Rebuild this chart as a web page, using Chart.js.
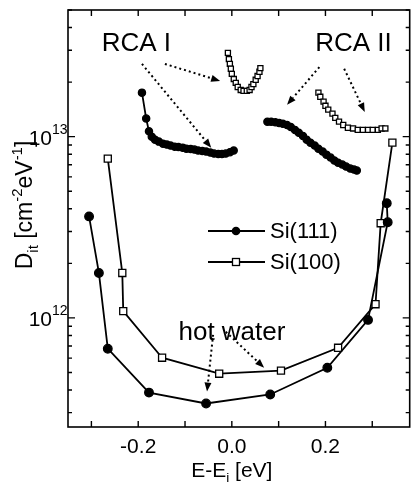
<!DOCTYPE html>
<html>
<head>
<meta charset="utf-8">
<script src="https://cdn.jsdelivr.net/npm/chart.js@4/dist/chart.umd.min.js"></script>
<style>html,body{margin:0;padding:0;background:#fff}#c{display:block}</style>
</head>
<body>
<canvas id="c" width="416" height="483"></canvas>
<script>
// hot water cleaned
const hot111E=[-0.305,-0.284,-0.265,-0.177,-0.055,0.082,0.204,0.291,0.333,0.331];
const hot111D=[3.63e12,1.77e12,6.76e11,3.87e11,3.37e11,3.78e11,5.31e11,9.75e11,3.37e12,4.29e12];
const hot100E=[-0.265,-0.234,-0.232,-0.149,-0.027,0.105,0.227,0.307,0.318,0.343];
const hot100D=[7.57e12,1.77e12,1.09e12,6.03e11,4.92e11,5.12e11,6.84e11,1.19e12,3.33e12,9.27e12];
// RCA I
const rca1s111E=[-0.192,-0.183,-0.177,-0.171,-0.164,-0.156,-0.147,-0.139,-0.131,-0.122,-0.114,-0.105,-0.097,-0.088,-0.080,-0.072,-0.063,-0.055,-0.046,-0.038,-0.029,-0.021,-0.013,-0.004,0.004];
const rca1s111D=[1.75e13,1.26e13,1.07e13,1.00e13,9.63e12,9.39e12,9.15e12,9.04e12,8.93e12,8.81e12,8.76e12,8.70e12,8.59e12,8.54e12,8.49e12,8.38e12,8.33e12,8.27e12,8.17e12,8.07e12,8.02e12,8.02e12,8.07e12,8.21e12,8.38e12];
const rca1s100E=[-0.0084,-0.0063,-0.0042,-0.0021,0.0,0.0042,0.0084,0.0126,0.019,0.025,0.032,0.038,0.042,0.046,0.051,0.055,0.059,0.061];
const rca1s100D=[2.90e13,2.68e13,2.52e13,2.37e13,2.22e13,2.08e13,1.98e13,1.88e13,1.81e13,1.79e13,1.79e13,1.81e13,1.88e13,1.95e13,2.06e13,2.16e13,2.28e13,2.39e13];
// RCA II
const rca2s111E=[0.076,0.084,0.093,0.101,0.109,0.118,0.126,0.135,0.143,0.152,0.160,0.168,0.177,0.185,0.194,0.202,0.211,0.219,0.227,0.236,0.244,0.253,0.261,0.267];
const rca2s111D=[1.21e13,1.21e13,1.20e13,1.19e13,1.18e13,1.16e13,1.13e13,1.09e13,1.05e13,1.01e13,9.63e12,9.27e12,8.93e12,8.59e12,8.27e12,7.96e12,7.67e12,7.38e12,7.19e12,7.02e12,6.84e12,6.67e12,6.59e12,6.50e12];
const rca2s100E=[0.185,0.189,0.196,0.200,0.206,0.215,0.221,0.229,0.238,0.248,0.259,0.269,0.280,0.291,0.301,0.312,0.320,0.328];
const rca2s100D=[1.75e13,1.66e13,1.56e13,1.48e13,1.41e13,1.34e13,1.27e13,1.21e13,1.16e13,1.12e13,1.11e13,1.09e13,1.09e13,1.09e13,1.09e13,1.09e13,1.11e13,1.11e13];

const xTickVals=[-0.2,0,0.2];
const xTickLabels=['-0.2','0.0','0.2'];
const xMinorVals=[-0.3,-0.2,-0.1,0,0.1,0.2,0.3];
const yMajorVals=[1e12,1e13];
const yMajorExp=['12','13'];
const legendNames=['Si(111)','Si(100)'];

// annotation texts and dotted arrows, in data units [E, D]
const notes=[['RCA I',-0.278,3.24e13],['RCA II',0.178,3.24e13],['hot water',-0.114,8.28e11]];
const arrows=[
  [-0.143,2.52e13,-0.025,2.03e13],
  [-0.192,2.52e13,-0.044,8.70e12],
  [0.187,2.42e13,0.118,1.50e13],
  [0.240,2.37e13,0.284,1.37e13],
  [-0.040,8.07e11,-0.053,3.92e11],
  [-0.013,8.38e11,0.069,5.31e11]
];

const FONT='"Liberation Sans", Arial, sans-serif';
const zip=(a,b)=>a.map((v,i)=>({x:v,y:b[i]}));

function ds(E,D,filled,r){
  return {data:zip(E,D),showLine:true,borderColor:'#000',borderWidth:1.8,
    pointStyle:filled?'circle':'rect',pointRadius:r,pointHoverRadius:r,
    pointBackgroundColor:filled?'#000':'#fff',pointBorderColor:'#000',pointBorderWidth:1.3};
}

function rich(ctx,parts,x,y,size,align){
  // parts: [text, mode] mode 0 normal, 1 sup, -1 sub
  let w=0;
  parts.forEach(p=>{ctx.font=(p[1]?size*0.65:size)+'px '+FONT;w+=ctx.measureText(p[0]).width;});
  let cx=align==='center'?x-w/2:(align==='right'?x-w:x);
  ctx.textBaseline='alphabetic';ctx.textAlign='left';
  parts.forEach(p=>{
    const s=p[1]?size*0.65:size;
    ctx.font=s+'px '+FONT;
    const dy=p[1]===1?-size*0.42:(p[1]===-1?size*0.25:0);
    ctx.fillText(p[0],cx,y+dy);
    cx+=ctx.measureText(p[0]).width;
  });
}

const deco={
  id:'deco',
  afterDraw(chart){
    const {ctx,chartArea:a,scales:{x,y}}=chart;
    ctx.save();
    ctx.strokeStyle='#000';ctx.fillStyle='#000';
    // frame
    ctx.lineWidth=1.6;ctx.strokeRect(a.left,a.top,a.right-a.left,a.bottom-a.top);
    // inward ticks
    ctx.lineWidth=1.4;ctx.beginPath();
    xMinorVals.forEach(v=>{const px=x.getPixelForValue(v);
      ctx.moveTo(px,a.bottom);ctx.lineTo(px,a.bottom-6);ctx.moveTo(px,a.top);ctx.lineTo(px,a.top+6);});
    for(let e=11;e<=13;e++)for(let m=1;m<=9;m++){
      const v=m*Math.pow(10,e);
      if(v<y.min||v>y.max)continue;
      const py=y.getPixelForValue(v),len=m===1?7:4;
      ctx.moveTo(a.left,py);ctx.lineTo(a.left+len,py);ctx.moveTo(a.right,py);ctx.lineTo(a.right-len,py);
    }
    ctx.stroke();
    // y tick labels
    yMajorVals.forEach((v,i)=>{
      const py=y.getPixelForValue(v);
      ctx.font='21px '+FONT;ctx.textAlign='right';ctx.textBaseline='alphabetic';
      ctx.fillText('10',52,py+8);
      ctx.font='14px '+FONT;ctx.textAlign='left';
      ctx.fillText(yMajorExp[i],52,py-3);
    });
    // axis titles
    rich(ctx,[['E-E',0],['i',-1],[' [eV]',0]],x.getPixelForValue(0),477,21,'center');
    ctx.save();ctx.translate(32,205);ctx.rotate(-Math.PI/2);
    rich(ctx,[['D',0],['it',-1],[' [cm',0],['-2',1],['eV',0],['-1',1],[']',0]],0,0,23,'center');
    ctx.restore();
    // notes
    ctx.textBaseline='middle';ctx.textAlign='left';ctx.font='26px '+FONT;
    notes.forEach(n=>ctx.fillText(n[0],x.getPixelForValue(n[1]),y.getPixelForValue(n[2])));
    // dotted arrows
    arrows.forEach(r=>{
      const x1=x.getPixelForValue(r[0]),y1=y.getPixelForValue(r[1]);
      const x2=x.getPixelForValue(r[2]),y2=y.getPixelForValue(r[3]);
      const ang=Math.atan2(y2-y1,x2-x1),hl=9,hw=3.5;
      const bx=x2-hl*Math.cos(ang),by=y2-hl*Math.sin(ang);
      ctx.setLineDash([2,3]);ctx.lineWidth=2;
      ctx.beginPath();ctx.moveTo(x1,y1);ctx.lineTo(bx,by);ctx.stroke();
      ctx.setLineDash([]);
      ctx.beginPath();ctx.moveTo(x2,y2);
      ctx.lineTo(bx+hw*Math.sin(ang),by-hw*Math.cos(ang));
      ctx.lineTo(bx-hw*Math.sin(ang),by+hw*Math.cos(ang));
      ctx.closePath();ctx.fill();
    });
    // legend
    const lx=a.left+140,rows=[a.top+221,a.top+252];
    rows.forEach((ry,i)=>{
      ctx.lineWidth=1.8;ctx.beginPath();ctx.moveTo(lx,ry);ctx.lineTo(lx+57,ry);ctx.stroke();
      const mx=lx+28;
      ctx.lineWidth=1.3;
      if(i===0){ctx.beginPath();ctx.arc(mx,ry,4.3,0,Math.PI*2);ctx.fill();}
      else{ctx.fillStyle='#fff';ctx.fillRect(mx-3.5,ry-3.5,7,7);ctx.strokeRect(mx-3.5,ry-3.5,7,7);ctx.fillStyle='#000';}
      ctx.font='22px '+FONT;ctx.textAlign='left';ctx.textBaseline='middle';
      ctx.fillText(legendNames[i],lx+62,ry+1);
    });
    ctx.restore();
  }
};

new Chart(document.getElementById('c'),{
  type:'scatter',
  data:{datasets:[
    ds(hot111E,hot111D,true,4.3),
    ds(hot100E,hot100D,false,5),
    ds(rca1s111E,rca1s111D,true,3.6),
    ds(rca1s100E,rca1s100D,false,3.6),
    ds(rca2s111E,rca2s111D,true,3.6),
    ds(rca2s100E,rca2s100D,false,3.6)
  ]},
  options:{
    responsive:false,animation:false,
    layout:{padding:{left:0,right:1,top:10,bottom:0}},
    plugins:{legend:{display:false},tooltip:{enabled:false}},
    scales:{
      x:{type:'linear',min:-0.35,max:0.38,
        grid:{display:false,drawTicks:false},border:{display:false},
        afterBuildTicks:s=>{s.ticks=xTickVals.map(v=>({value:v}));},
        afterFit:s=>{s.height=56;},
        ticks:{color:'#000',padding:8,font:{family:FONT,size:21},maxRotation:0,
          callback:(v,i)=>xTickLabels[i]}},
      y:{type:'logarithmic',min:2.5e11,max:5e13,
        grid:{display:false,drawTicks:false},border:{display:false},
        ticks:{display:false},
        afterFit:s=>{s.width=68;}}
    }
  },
  plugins:[deco]
});
</script>
</body>
</html>
